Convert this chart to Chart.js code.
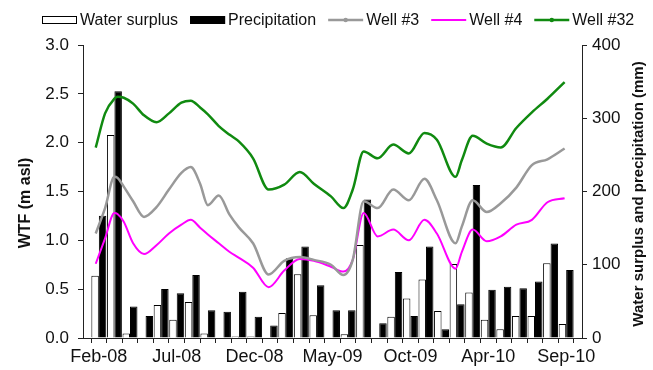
<!DOCTYPE html>
<html>
<head>
<meta charset="utf-8">
<script src="https://cdn.jsdelivr.net/npm/chart.js@4.4.1/dist/chart.umd.min.js"></script>
<style>
  html, body { margin: 0; padding: 0; background: #fff; }
  #wrap { width: 653px; height: 370px; }
</style>
</head>
<body>
<div id="wrap"><canvas id="c" width="653" height="370"></canvas></div>
<script>
// Monthly categories (Mar-10 has no record)
const months = [
  'Feb-08','Mar-08','Apr-08','May-08','Jun-08','Jul-08','Aug-08','Sep-08','Oct-08','Nov-08','Dec-08',
  'Jan-09','Feb-09','Mar-09','Apr-09','May-09','Jun-09','Jul-09','Aug-09','Sep-09','Oct-09','Nov-09','Dec-09',
  'Jan-10','Feb-10','Apr-10','May-10','Jun-10','Jul-10','Aug-10','Sep-10'
];

// Monthly totals (mm)
const waterSurplus = [85, 277, 6, 0, 45, 25, 49, 6, 0, 2, 2, 0, 34, 87, 31, 0, 5, 127, 0, 29, 54, 80, 37, 101, 62, 25, 12, 30, 30, 102, 19];
const precipitation = [167, 337, 43, 30, 67, 61, 86, 38, 36, 63, 29, 17, 109, 125, 72, 38, 38, 189, 20, 90, 30, 125, 12, 46, 209, 66, 70, 68, 77, 129, 93];

// Water table readings: time in months from Feb-08, level in m asl
const wellTime = [-0.2, 0.4, 1.0, 1.2, 1.6, 2.2, 2.9, 3.7, 4.5, 5.3, 5.9, 6.5, 7.0, 7.7, 8.4, 9.0, 9.9,
  10.9, 11.9, 12.9, 13.8, 14.9, 15.7, 16.3, 17.0, 17.9, 18.9, 19.9, 20.9, 21.7, 22.9, 23.3, 24.0,
  24.9, 25.8, 26.8, 27.8, 28.8, 29.9];
const well3 = [1.07, 1.33, 1.65, 1.64, 1.55, 1.40, 1.24, 1.34, 1.52, 1.69, 1.75, 1.58, 1.36, 1.46, 1.26, 1.13, 0.97,
  0.65, 0.79, 0.83, 0.80, 0.75, 0.645, 0.80, 1.40, 1.33, 1.52, 1.41, 1.63, 1.41, 0.97, 1.14, 1.41,
  1.29, 1.38, 1.54, 1.77, 1.83, 1.94];
const well4 = [0.76, 1.02, 1.28, 1.27, 1.19, 0.97, 0.86, 0.95, 1.07, 1.16, 1.21, 1.13, 1.06, 0.97, 0.88, 0.82, 0.72,
  0.52, 0.69, 0.81, 0.79, 0.73, 0.68, 0.80, 1.28, 1.04, 1.11, 1.00, 1.21, 1.07, 0.71, 0.88, 1.11,
  0.99, 1.04, 1.16, 1.21, 1.39, 1.43];
const well32 = [1.95, 2.30, 2.45, 2.47, 2.46, 2.40, 2.28, 2.21, 2.30, 2.41, 2.43, 2.36, 2.29, 2.17, 2.08, 2.01, 1.84,
  1.52, 1.57, 1.70, 1.58, 1.45, 1.33, 1.52, 1.91, 1.84, 1.98, 1.89, 2.10, 2.03, 1.65, 1.82, 2.07,
  1.99, 1.95, 2.15, 2.31, 2.45, 2.62];

const FONT = '"Liberation Sans", Arial, Helvetica, sans-serif';
// Every dataset shares one numeric time axis: month index i sits at x = i
const monthly = (vals) => vals.map((v, i) => ({ x: i, y: v }));
const series = (vals) => wellTime.map((t, i) => ({ x: t, y: vals[i] }));

// Legend above the plot and the two rotated axis titles
const decor = {
  id: 'decor',
  afterDraw(chart) {
    const ctx = chart.ctx;
    ctx.save();
    ctx.font = '16px ' + FONT;
    ctx.textBaseline = 'alphabetic';
    ctx.textAlign = 'left';
    let x = 42;
    const yMid = 20;
    chart.data.datasets.forEach(ds => {
      if (ds.type === 'bar') {
        ctx.fillStyle = ds.backgroundColor;
        ctx.fillRect(x, yMid - 4, 35, 8);
        ctx.strokeStyle = '#000';
        ctx.lineWidth = 1;
        ctx.strokeRect(x + 0.5, yMid - 3.5, 34, 7);
      } else {
        ctx.strokeStyle = ds.borderColor;
        ctx.lineWidth = ds.borderWidth;
        ctx.beginPath();
        ctx.moveTo(x, yMid);
        ctx.lineTo(x + 35, yMid);
        ctx.stroke();
        if (ds.legendMarker) {
          ctx.fillStyle = ds.borderColor;
          ctx.beginPath();
          ctx.arc(x + 17.5, yMid, 2.2, 0, Math.PI * 2);
          ctx.fill();
        }
      }
      ctx.fillStyle = '#111';
      ctx.fillText(ds.label, x + 38, 25);
      x += 38 + ctx.measureText(ds.label).width + 12;
    });

    ctx.font = 'bold 16px ' + FONT;
    ctx.fillStyle = '#111';
    ctx.textAlign = 'center';
    ctx.textBaseline = 'middle';
    ctx.translate(26, 203);
    ctx.rotate(-Math.PI / 2);
    ctx.fillText('WTF (m asl)', 0, 0);
    ctx.setTransform(1, 0, 0, 1, 0, 0);
    ctx.font = 'bold 15px ' + FONT;
    ctx.translate(639, 194);
    ctx.rotate(-Math.PI / 2);
    ctx.fillText('Water surplus and precipitation (mm)', 0, 0);
    ctx.restore();
  }
};

const axisColor = '#222';

new Chart(document.getElementById('c'), {
  data: {
    datasets: [
      { type: 'bar', label: 'Water surplus', data: monthly(waterSurplus), yAxisID: 'y2',
        backgroundColor: '#ffffff', borderColor: '#000000', borderWidth: 1, order: 2,
        categoryPercentage: 0.96, barPercentage: 1.0 },
      { type: 'bar', label: 'Precipitation', data: monthly(precipitation), yAxisID: 'y2',
        backgroundColor: '#000000', borderColor: '#000000', borderWidth: 1, order: 2,
        categoryPercentage: 0.96, barPercentage: 1.0 },
      { type: 'line', label: 'Well #3', data: series(well3), yAxisID: 'y',
        borderColor: '#999999', borderWidth: 2.5, pointRadius: 0, cubicInterpolationMode: 'monotone',
        legendMarker: true, order: 1 },
      { type: 'line', label: 'Well #4', data: series(well4), yAxisID: 'y',
        borderColor: '#ff00ff', borderWidth: 2, pointRadius: 0, cubicInterpolationMode: 'monotone',
        order: 1 },
      { type: 'line', label: 'Well #32', data: series(well32), yAxisID: 'y',
        borderColor: '#108a10', borderWidth: 2.5, pointRadius: 0, cubicInterpolationMode: 'monotone',
        legendMarker: true, order: 1 }
    ]
  },
  options: {
    responsive: false,
    animation: false,
    devicePixelRatio: 1,
    layout: { padding: { top: 45, left: 0, right: 0, bottom: 0 } },
    plugins: { legend: { display: false }, tooltip: { enabled: false } },
    scales: {
      x: {
        type: 'linear',
        position: 'bottom',
        min: -0.5,
        max: months.length - 0.5,
        afterBuildTicks: s => { s.ticks = months.map((m, i) => ({ value: i })); },
        afterFit: s => { s.height = 32; },
        grid: { offset: true, drawOnChartArea: false, drawTicks: true, tickLength: 5, color: axisColor, lineWidth: 1 },
        border: { display: true, color: axisColor, width: 1 },
        ticks: {
          autoSkip: false, maxRotation: 0, minRotation: 0, padding: 3,
          color: '#111', font: { family: FONT, size: 18 },
          callback: (v, i) => (i % 5 === 0 ? months[i] : '')
        }
      },
      y: {
        position: 'left',
        min: 0, max: 3,
        afterFit: s => { s.width = 83; },
        grid: { drawOnChartArea: false, drawTicks: true, tickLength: 5, color: axisColor, lineWidth: 1 },
        border: { display: true, color: axisColor, width: 1 },
        ticks: { stepSize: 0.5, padding: 9, color: '#111', font: { family: FONT, size: 17 },
          callback: v => v.toFixed(1) }
      },
      y2: {
        position: 'right',
        min: 0, max: 400,
        afterFit: s => { s.width = 71; },
        grid: { drawOnChartArea: false, drawTicks: true, tickLength: 5, color: axisColor, lineWidth: 1 },
        border: { display: true, color: axisColor, width: 1 },
        ticks: { stepSize: 100, padding: 5, color: '#111', font: { family: FONT, size: 17 } }
      }
    }
  },
  plugins: [decor]
});
</script>
</body>
</html>
